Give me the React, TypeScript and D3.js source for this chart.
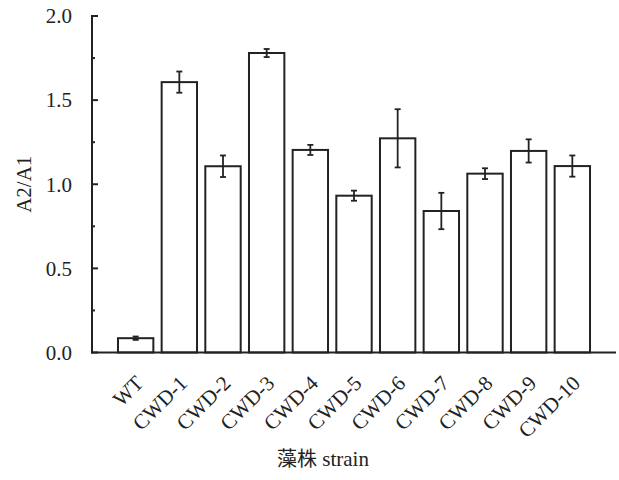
import React from "react";
import * as d3 from "d3";

const categories = ["WT", "CWD-1", "CWD-2", "CWD-3", "CWD-4", "CWD-5", "CWD-6", "CWD-7", "CWD-8", "CWD-9", "CWD-10"];
const values = [0.085, 1.607, 1.107, 1.780, 1.204, 0.932, 1.273, 0.841, 1.063, 1.198, 1.108];
const errors = [0.01, 0.063, 0.064, 0.024, 0.03, 0.03, 0.173, 0.108, 0.032, 0.069, 0.063];
const majorTicks = [0, 0.5, 1.0, 1.5, 2.0];
const minorTicks = [0.25, 0.75, 1.25, 1.75];

const W = 619, H = 480;
const left = 92, right = 616, top = 16, bottom = 352.5;
const font = "'Liberation Serif', 'Times New Roman', serif";
const ink = "#222";

export default function App() {
  const x = d3.scalePoint<string>().domain(categories).range([left, right]).padding(1);
  const y = d3.scaleLinear().domain([0, 2]).range([bottom, top]);
  const bw = x.step() * 0.81;

  return (
    <svg width={W} height={H} style={{ position: "absolute", left: 0, top: 0, background: "#fff" }}>
      {categories.map((c, i) => {
        const cx = x(c)!;
        return (
          <g key={c}>
            <rect x={cx - bw / 2} y={y(values[i])} width={bw} height={bottom - y(values[i])}
              fill="#fff" stroke={ink} strokeWidth={2} />
            <line x1={cx} x2={cx} y1={y(values[i] + errors[i])} y2={y(values[i] - errors[i])} stroke={ink} strokeWidth={1.8} />
            <line x1={cx - 3} x2={cx + 3} y1={y(values[i] + errors[i])} y2={y(values[i] + errors[i])} stroke={ink} strokeWidth={1.8} />
            <line x1={cx - 3} x2={cx + 3} y1={y(values[i] - errors[i])} y2={y(values[i] - errors[i])} stroke={ink} strokeWidth={1.8} />
            <text transform={`translate(${cx + 9},${bottom + 32}) rotate(-45)`} textAnchor="end"
              fontFamily={font} fontSize={21} fill={ink}>{c}</text>
          </g>
        );
      })}
      <line x1={left} x2={left} y1={top - 1} y2={bottom + 1} stroke={ink} strokeWidth={2} />
      <line x1={left - 1} x2={right} y1={bottom} y2={bottom} stroke={ink} strokeWidth={2} />
      {majorTicks.map(t => (
        <g key={t}>
          <line x1={left} x2={left + 6} y1={y(t)} y2={y(t)} stroke={ink} strokeWidth={2} />
          <text x={72} y={y(t)} dy="0.35em" textAnchor="end" fontFamily={font} fontSize={21} fill={ink}>{t.toFixed(1)}</text>
        </g>
      ))}
      {minorTicks.map(t => (
        <line key={t} x1={left} x2={left + 3} y1={y(t)} y2={y(t)} stroke={ink} strokeWidth={2} />
      ))}
      <text transform={`translate(31,${(top + bottom) / 2}) rotate(-90)`} textAnchor="middle"
        fontFamily={font} fontSize={21} fill={ink}>A2/A1</text>
      <text x={323} y={466} textAnchor="middle" fontFamily={font} fontSize={21} fill={ink}>
        <tspan fontFamily="'Noto Sans CJK SC', sans-serif" fontSize={20}>藻株</tspan> strain
      </text>
    </svg>
  );
}
